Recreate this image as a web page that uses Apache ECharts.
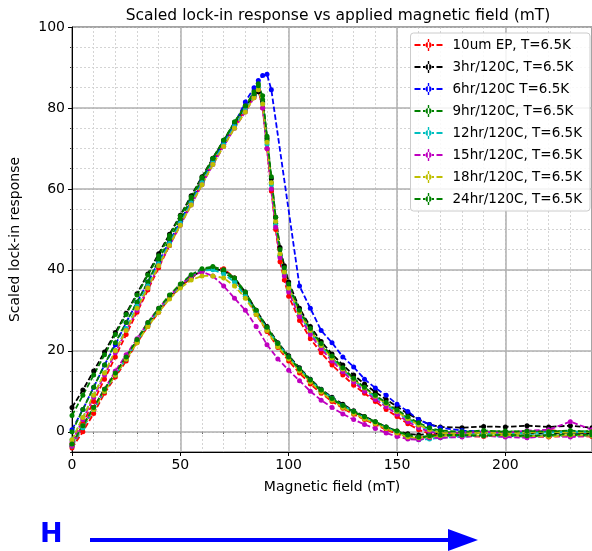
<!DOCTYPE html>
<html>
<head>
<meta charset="utf-8">
<script src="https://cdn.jsdelivr.net/npm/echarts@6/dist/echarts.min.js"></script>
<style>
  html, body { margin: 0; padding: 0; background: #fff; }
  #chart { width: 592px; height: 551px; }
</style>
</head>
<body>
<div id="chart"></div>
<script>
const chartDom = document.getElementById('chart');
const myChart = echarts.init(chartDom, null, { renderer: 'canvas' });

// field values (mT) for the upper (triangle) and lower (bump) sweeps
const fieldUp = [0, 5, 10, 15, 20, 25, 30, 35, 40, 45, 50, 55, 60, 65, 70, 75, 80, 84, 86, 88, 90, 92, 94, 96, 98, 100, 105, 110, 115, 120, 125, 130, 135, 140, 145, 150, 155, 160, 165, 170, 180, 190, 200, 210, 220, 230, 240];
const fieldLow = [0, 5, 10, 15, 20, 25, 30, 35, 40, 45, 50, 55, 60, 65, 70, 75, 80, 85, 90, 95, 100, 105, 110, 115, 120, 125, 130, 135, 140, 145, 150, 155, 160, 165, 170, 180, 190, 200, 210, 220, 230, 240];

const names = ['10um EP, T=6.5K', '3hr/120C, T=6.5K', '6hr/120C T=6.5K', '9hr/120C, T=6.5K', '12hr/120C, T=6.5K', '15hr/120C, T=6.5K', '18hr/120C, T=6.5K', '24hr/120C, T=6.5K'];
const colors = ['#ff0000', '#000000', '#0000ff', '#008000', '#00bfbf', '#bf00bf', '#bfbf00', '#008000'];

// upper curves (response on fieldUp)
const upRed = [-3.5, 2, 7.5, 13, 18.5, 24, 29.5, 35, 40.5, 46, 51.5, 56.5, 61.5, 66.5, 71, 75.5, 79.5, 83, 84.5, 80, 70, 59.5, 50, 42, 37.5, 33.5, 27.5, 23, 19.5, 16.5, 14, 11.5, 9.5, 7.5, 5.5, 3.8, 2, 0.5, -0.5, -1, -0.5, -0.3, 0, -0.5, 0.5, -0.3, -0.5];
const upBlack = [6, 10.3, 15, 19.7, 24.5, 29.3, 34.1, 39, 44, 48.8, 53.5, 58.3, 63, 67.6, 72, 76, 80.5, 83, 84, 81.5, 72.5, 62.5, 53, 45.5, 41, 37, 30.5, 26, 22.3, 19.2, 16.5, 14, 11.8, 9.8, 8, 6.2, 4.5, 3, 1.8, 1.2, 1, 1.3, 1.2, 1.5, 1.2, 1.5, 1];
const upBlue = [0.5, 5.5, 11, 16.5, 21.5, 27, 32, 37, 42, 47, 52, 57, 62, 67, 71.5, 76, 81.5, 85, 86.8, 88, 88.3, 84.5, null, null, null, null, 36, 30.5, 25, 22, 18.5, 16, 13, 10.8, 9, 6.8, 5, 3, 1.8, 1, 0.3, 0, -0.3, 0, 0.2, -0.3, 0];
const upGreen9 = [0, 5.5, 11, 16.5, 22, 27, 32, 37, 42.5, 47.5, 52.5, 57.5, 62.5, 67.5, 72, 76.5, 80.5, 84, 86, 82, 72, 61.5, 51.5, 43.5, 39.5, 35.5, 29.5, 25, 21.3, 18.2, 15.5, 12.8, 10.6, 8.7, 6.9, 5, 3.3, 1.8, 0.7, 0, -0.3, 0, 0.2, -0.2, 0.3, 0, 0.2];
const upCyan = [-2, 3.5, 9, 14.5, 20, 25.5, 31, 36, 41.5, 46.5, 51.5, 56.5, 61.5, 66.5, 71, 75.5, 79.5, 83, 85, 81, 71, 61, 51, 43.5, 39, 35, 29, 24.5, 21, 18, 15.2, 12.7, 10.5, 8.5, 6.7, 4.8, 3, 1.5, 0.3, -0.5, -0.5, -0.3, -0.5, -0.3, -0.2, 0, -0.2];
const upMagenta = [-2.5, 3, 8.5, 14, 19.5, 25, 30, 35.5, 41, 46, 51, 56, 61, 66, 70.5, 75, 79, 82.5, 84.5, 80, 70, 60, 50.5, 43, 38.5, 34.5, 28.5, 24, 20.5, 17.5, 14.8, 12.3, 10, 8, 6.2, 4.3, 2.5, 1, 0, -0.5, -0.3, 0, -0.3, 0.3, 0.5, 2.5, 0.5];
const upYellow = [-2, 3.5, 9, 14.5, 20, 25, 30.5, 35.5, 41, 46, 51, 56, 61, 66, 70.5, 75, 79, 82.5, 84.5, 81, 71.5, 61.5, 52, 44, 39.5, 35.5, 29.5, 25, 21.3, 18.2, 15.5, 13, 10.8, 8.8, 7, 5, 3.2, 1.7, 0.5, -0.3, -0.5, -0.2, -0.5, -0.2, 0, -0.3, 0];
const upGreen24 = [4, 9, 14, 19, 24, 29, 33.8, 38.7, 43.5, 48.5, 53.3, 58, 62.8, 67.5, 72, 76.5, 80.5, 83.5, 85.5, 83, 73, 63, 53, 45, 40.5, 36.5, 30, 25.5, 21.8, 18.7, 15.8, 13.2, 11, 9, 7.2, 5.4, 3.7, 2.2, 1, 0.3, 0, 0.3, 0, 0.2, 0, 0.3, 0];

// lower curves (response on fieldLow)
const lowRed = [-4, 0, 4.5, 9.5, 13.5, 17.5, 22, 26, 29.5, 33, 35.8, 38, 39.8, 40.5, 40.3, 38, 34, 29, 24.8, 20.8, 17.5, 14.5, 11.8, 9.5, 7.5, 5.8, 4.3, 3, 1.8, 0.5, -0.5, -1.5, -1.5, -1, -0.8, -1, -1.2, -0.8, -1, -1.3, -1, -1.2];
const lowBlack = [-3, 1.5, 6, 10.5, 14.5, 18.5, 22.5, 26.5, 30, 33.5, 36, 38.3, 39.8, 40.3, 39.8, 38, 34.5, 30, 26, 22, 18.8, 15.8, 13, 10.5, 8.5, 6.8, 5.2, 3.8, 2.5, 1.2, 0.2, -0.5, -0.8, -0.5, -0.3, -0.5, -0.3, -0.5, -0.3, -0.5, -0.3, -0.5];
const lowGreen9 = [-3.5, 1, 5.5, 10, 14, 18, 22.3, 26.5, 30, 33.3, 36, 38.3, 40, 40.5, 39.5, 37.5, 34, 29.5, 25.5, 21.5, 18.3, 15.3, 12.5, 10, 8, 6.3, 4.8, 3.5, 2.3, 1, 0, -1, -1.5, -1.3, -1, -1, -0.8, -1, -1.2, -1, -0.8, -1];
const lowCyan = [-3.5, 1, 5.5, 10, 14, 18, 22.3, 26.5, 30, 33.3, 36, 38.5, 39.8, 40, 39, 37, 33.5, 29.5, 25.5, 21.8, 18.5, 15.5, 12.8, 10.3, 8.3, 6.5, 5, 3.5, 2.3, 1, 0, -1.5, -2, -1.8, -1.5, -1.2, -1, -1.2, -0.8, -1, -1, -0.8];
const lowMagenta = [-3.5, 1.5, 6, 10.5, 15, 19, 23, 27, 30.5, 33.5, 36.3, 38.5, 39.5, 38.5, 36, 33, 30, 26, 21.5, 18, 15.2, 12.6, 10, 7.8, 6, 4.4, 3, 1.8, 0.8, -0.3, -1.2, -1.8, -2, -1.5, -1.5, -1.3, -1, -1.3, -1.5, -1, -1.3, -1];
const lowYellow = [-3, 1.5, 5.5, 10, 14, 18, 22, 26, 29.5, 32.8, 35.5, 37.5, 38.5, 38.5, 38, 36, 33, 29, 25, 21, 18, 15, 12.3, 9.8, 7.8, 6, 4.5, 3.2, 2, 0.8, -0.3, -1.3, -1.5, -1.2, -1, -0.8, -1, -0.8, -1, -1.2, -0.8, -1];
const lowGreen24 = [-3, 1.5, 6, 10.5, 14.5, 18.5, 22.8, 27, 30.5, 33.8, 36.5, 38.8, 40.3, 40.8, 40, 38, 34.5, 30, 25.8, 21.8, 18.5, 15.5, 12.8, 10.3, 8.2, 6.5, 5, 3.7, 2.5, 1.2, 0.2, -0.8, -1.3, -1, -0.8, -0.8, -1, -0.7, -1, -0.8, -0.6, -0.8];

const upper = [upRed, upBlack, upBlue, upGreen9, upCyan, upMagenta, upYellow, upGreen24];
const lower = [lowRed, lowBlack, null, lowGreen9, lowCyan, lowMagenta, lowYellow, lowGreen24];

function pairs(xs, ys) {
    return xs.map((x, i) => [x, ys[i]]).filter(p => p[1] !== null);
}

// matplotlib-like legend handle: dashed line with errorbar marker
const legendIcon = 'path://M0,5h6v2H0z M8.5,5h3v2h-3z M16.5,5h3v2h-3z M22,5h6v2h-6z M13.3,0h1.4v12h-1.4z M11,6a3,3 0 1,0 6,0a3,3 0 1,0 -6,0z';

const series = [];
names.forEach((name, i) => {
    const base = {
        name: name,
        type: 'line',
        xAxisIndex: 0,
        yAxisIndex: 0,
        symbol: 'circle',
        symbolSize: 5,
        showAllSymbol: true,
        itemStyle: { color: colors[i] },
        lineStyle: { color: colors[i], width: 1.8, type: [5.5, 2.5] },
        emphasis: { disabled: true },
        silent: true
    };
    series.push(Object.assign({}, base, { data: pairs(fieldUp, upper[i]) }));
    if (lower[i]) {
        series.push(Object.assign({}, base, { data: pairs(fieldLow, lower[i]) }));
    }
});

const font = 'DejaVu Sans';

const option = {
    animation: false,
    backgroundColor: '#fff',
    title: {
        text: 'Scaled lock-in response vs applied magnetic field (mT)',
        left: 333,
        textAlign: 'center',
        top: 3,
        textStyle: { fontFamily: font, fontSize: 15.5, fontWeight: 'normal', color: '#000' }
    },
    grid: {
        left: 71, right: 0, top: 27, bottom: 99,
        show: true, borderColor: '#000', borderWidth: 1, backgroundColor: 'transparent'
    },
    legend: {
        orient: 'vertical',
        right: 2,
        top: 33,
        padding: [5, 8, 5, 4],
        itemWidth: 28,
        itemHeight: 12,
        itemGap: 8,
        icon: legendIcon,
        selectedMode: false,
        backgroundColor: 'rgba(255,255,255,0.85)',
        borderColor: '#cccccc',
        borderWidth: 1,
        borderRadius: 3,
        textStyle: { fontFamily: font, fontSize: 13.5, color: '#000', padding: [0, 0, 0, 5] },
        data: names
    },
    xAxis: [
        {
            type: 'value', min: 0, max: 240, interval: 50,
            name: 'Magnetic field (mT)', nameLocation: 'middle', nameGap: 28,
            nameTextStyle: { fontFamily: font, fontSize: 14, color: '#000' },
            axisLine: { onZero: false, lineStyle: { color: '#000', width: 1 } },
            axisTick: { length: 4, lineStyle: { color: '#000' } },
            axisLabel: { fontFamily: font, fontSize: 14, color: '#000', margin: 6, showMaxLabel: false },
            splitLine: { show: true, lineStyle: { color: '#b0b0b0', width: 1.5 } },
            z: 3
        },
        {
            type: 'value', min: 0, max: 240, interval: 10, position: 'bottom',
            axisLine: { show: false },
            axisTick: { length: 2, lineStyle: { color: '#333' } },
            axisLabel: { show: false },
            splitLine: { show: true, lineStyle: { color: '#d4d4d4', width: 1, type: [2, 2] } }
        }
    ],
    yAxis: [
        {
            type: 'value', min: -5, max: 100, splitNumber: 5,
            name: 'Scaled lock-in response', nameLocation: 'middle', nameGap: 50,
            nameTextStyle: { fontFamily: font, fontSize: 14, color: '#000' },
            axisLine: { onZero: false, lineStyle: { color: '#000', width: 1 } },
            axisTick: { length: 4, lineStyle: { color: '#000' } },
            axisLabel: { fontFamily: font, fontSize: 14, color: '#000', margin: 7, showMinLabel: false },
            splitLine: { show: true, lineStyle: { color: '#b0b0b0', width: 1.5 } },
            z: 3
        },
        {
            type: 'value', min: -5, max: 100, interval: 5, position: 'left',
            axisLine: { show: false },
            axisTick: { length: 2, lineStyle: { color: '#333' } },
            axisLabel: { show: false },
            splitLine: { show: true, lineStyle: { color: '#d4d4d4', width: 1, type: [2, 2] } }
        }
    ],
    graphic: [
        {
            type: 'text', left: 40, top: 521,
            style: { text: 'H', fill: '#0000ff', font: 'bold 27px "DejaVu Sans"' }
        },
        {
            type: 'line', shape: { x1: 90, y1: 540, x2: 452, y2: 540 },
            style: { stroke: '#0000ff', lineWidth: 4 }
        },
        {
            type: 'polygon', shape: { points: [[448, 529], [478, 540], [448, 551]] },
            style: { fill: '#0000ff' }
        }
    ],
    series: series
};

myChart.setOption(option);
</script>
</body>
</html>
